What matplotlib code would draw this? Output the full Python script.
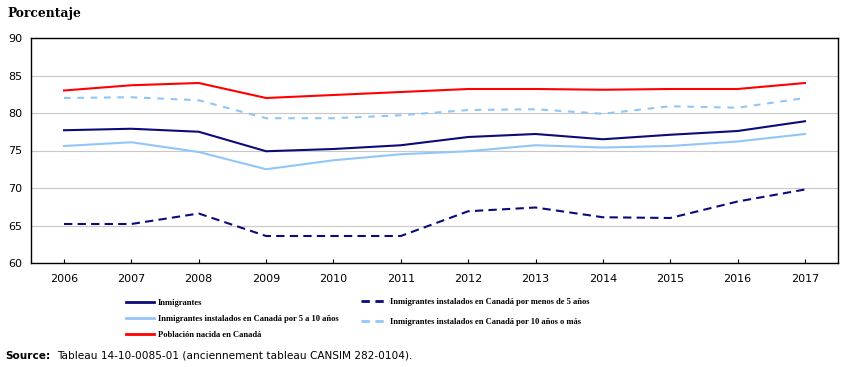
import matplotlib.pyplot as plt
from matplotlib.lines import Line2D

years = [2006, 2007, 2008, 2009, 2010, 2011, 2012, 2013, 2014, 2015, 2016, 2017]
immigrants = [77.7, 77.9, 77.5, 74.9, 75.2, 75.7, 76.8, 77.2, 76.5, 77.1, 77.6, 78.9]
recent_lt5 = [65.2, 65.2, 66.6, 63.6, 63.6, 63.6, 66.9, 67.4, 66.1, 66.0, 68.2, 69.8]
settled_5_10 = [75.6, 76.1, 74.8, 72.5, 73.7, 74.5, 74.9, 75.7, 75.4, 75.6, 76.2, 77.2]
settled_10p = [82.0, 82.1, 81.7, 79.3, 79.3, 79.7, 80.4, 80.5, 79.9, 80.9, 80.7, 82.0]
canadian_born = [83.0, 83.7, 84.0, 82.0, 82.4, 82.8, 83.2, 83.2, 83.1, 83.2, 83.2, 84.0]

NAVY = "#0b0b7a"
LIGHT = "#91c6f7"
RED = "#ff0000"
DASH_NAVY = (0, (4, 2.5))
DASH_LIGHT = (0, (3.2, 3.2))

fig = plt.figure(figsize=(8.49, 3.67), dpi=100)
ax = fig.add_axes([31 / 849, 104 / 367, 807 / 849, 225 / 367])

ax.plot(years, immigrants, color=NAVY, lw=1.5)
ax.plot(years, recent_lt5, color=NAVY, lw=1.5, ls=DASH_NAVY)
ax.plot(years, settled_5_10, color=LIGHT, lw=1.5)
ax.plot(years, settled_10p, color=LIGHT, lw=1.5, ls=DASH_LIGHT)
ax.plot(years, canadian_born, color=RED, lw=1.5)

ax.set_xlim(2005.51, 2017.49)
ax.set_ylim(60, 90)
ax.set_xticks(years)
ax.set_yticks(range(60, 91, 5))
ax.yaxis.grid(True, color="#c8c8c8", lw=0.8)
ax.set_axisbelow(True)
ax.tick_params(axis="x", direction="in", length=3, labelsize=8, pad=8)
ax.tick_params(axis="y", length=0, labelsize=8, pad=6)
for s in ax.spines.values():
    s.set_color("black")
    s.set_linewidth(1.0)

fig.text(7 / 849, 1 - 14 / 367, "Porcentaje", fontsize=8.8, fontweight="bold",
         family="DejaVu Serif", va="center")

# two legend blocks, laid out like the original
leg_font = {"family": "Liberation Serif", "size": 6.1, "weight": "bold"}
h1 = [Line2D([], [], color=NAVY, lw=2),
      Line2D([], [], color=LIGHT, lw=2),
      Line2D([], [], color=RED, lw=2)]
fig.legend(h1, ["Inmigrantes", "Inmigrantes instalados en Canadá por 5 a 10 años",
                "Población nacida en Canadá"],
           loc="upper left", bbox_to_anchor=(122 / 849, 1 - 295 / 367),
           frameon=False, prop=leg_font, handlelength=3.3, handletextpad=0.4,
           labelspacing=0.95, borderpad=0)
h2 = [Line2D([], [], color=NAVY, lw=2, ls=(0, (3, 2))),
      Line2D([], [], color=LIGHT, lw=2, ls=(0, (3, 2)))]
fig.legend(h2, ["Inmigrantes instalados en Canadá por menos de 5 años",
                "Inmigrantes instalados en Canadá por 10 años o más"],
           loc="upper left", bbox_to_anchor=(357 / 849, 1 - 294 / 367),
           frameon=False, prop=leg_font, handlelength=3.3, handletextpad=0.15,
           labelspacing=1.35, borderpad=0)

fig.text(5 / 849, 1 - 356 / 367, "Source:", fontsize=7.6, fontweight="bold", va="center")
fig.text(57 / 849, 1 - 356 / 367, "Tableau 14-10-0085-01 (anciennement tableau CANSIM 282-0104).",
         fontsize=7.6, va="center")

fig.savefig("out.png", dpi=100)
